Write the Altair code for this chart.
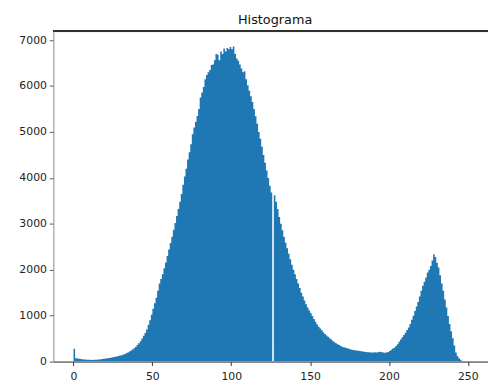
import altair as alt
import pandas as pd

counts = [
    280, 70, 65, 60, 55, 50, 48, 45, 42, 40,
    38, 36, 38, 40, 42, 45, 48, 52, 58, 62,
    68, 72, 78, 85, 90, 98, 105, 112, 120, 130,
    140, 150, 165, 180, 200, 220, 240, 262, 290, 320,
    360, 400, 445, 500, 560, 620, 700, 800, 900, 1020,
    1150, 1270, 1390, 1540, 1700, 1800, 1900, 2030, 2160, 2300,
    2440, 2580, 2720, 2870, 3020, 3170, 3320, 3480, 3650, 3850,
    4030, 4200, 4400, 4560, 4730, 4950, 5100, 5220, 5350, 5500,
    5750, 5860, 5980, 6150, 6240, 6300, 6350, 6460, 6470, 6560,
    6700, 6680, 6560, 6750, 6700, 6820, 6750, 6830, 6800, 6850,
    6800, 6860, 6700, 6600, 6550, 6470, 6380, 6300, 6320, 6150,
    6020, 5900, 5780, 5650, 5500, 5340, 5180, 5000, 4850, 4680,
    4500, 4330, 4160, 4000, 3830, 3680, 0, 3620, 3480, 3320,
    3150, 3000, 2860, 2720, 2590, 2470, 2350, 2230, 2110, 2000,
    1900, 1800, 1700, 1600, 1500, 1420, 1330, 1250, 1180, 1110,
    1050, 990, 930, 870, 810, 760, 720, 680, 640, 600,
    570, 540, 510, 480, 450, 420, 400, 380, 360, 340,
    320, 310, 300, 290, 280, 270, 260, 250, 245, 240,
    235, 230, 225, 220, 215, 210, 205, 205, 200, 200,
    200, 205, 200, 210, 215, 205, 200, 195, 200, 210,
    230, 260, 285, 300, 340, 380, 430, 480, 530, 580,
    630, 690, 740, 820, 910, 1000, 1100, 1200, 1300, 1420,
    1540, 1650, 1740, 1830, 1940, 2000, 2080, 2200, 2340, 2280,
    2150, 2050, 1880, 1700, 1540, 1350, 1180, 990, 820, 660,
    510, 350, 200, 120, 70, 40, 15, 5, 0, 0,
    0, 0, 0, 0, 0, 0,
]
bin_start = list(range(256))
x_ticks = [0, 50, 100, 150, 200, 250]
y_ticks = [0, 1000, 2000, 3000, 4000, 5000, 6000, 7000]
title_text = "Histograma"

# histogram outline: each bin's count holds from its left edge to the next
# edge; the last edge (256) closes the outline at zero
df = pd.DataFrame({"edge": bin_start + [256], "count": counts + [0]})

W, H = 441, 335
FONT = "DejaVu Sans"

bars = alt.Chart(df).mark_area(
    color="#1f77b4", interpolate="step-after", clip=True, opacity=1
).encode(
    x=alt.X(
        "edge:Q",
        scale=alt.Scale(domain=[-12.8, 262.8], nice=False, zero=False),
        axis=alt.Axis(
            values=x_ticks, title=None, grid=False, format="d",
            labelFont=FONT, labelFontSize=11, labelColor="#222",
            tickColor="#333", tickSize=4, labelPadding=5,
            domainColor="#333", domainWidth=1,
        ),
    ),
    y=alt.Y(
        "count:Q",
        scale=alt.Scale(domain=[0, 7190], nice=False),
        axis=alt.Axis(
            values=y_ticks, title=None, grid=False, format="d",
            labelFont=FONT, labelFontSize=11, labelColor="#222",
            tickColor="#555", tickSize=4, labelPadding=3,
            domainColor="#999", domainWidth=1,
        ),
    ),
)

top_border = alt.Chart(df).mark_rule(color="#333", strokeWidth=1).encode(
    x=alt.value(0), x2=alt.value(W), y=alt.value(0)
)

title = alt.Chart(pd.DataFrame({"t": [title_text]})).mark_text(
    font=FONT, fontSize=13, color="#111", baseline="middle", align="center"
).encode(
    text="t:N", x=alt.value(225), y=alt.value(-12)
)

chart = alt.layer(bars, top_border, title).properties(
    width=W, height=H,
    autosize=alt.AutoSizeParams(type="none"),
    padding={"left": 46, "top": 21, "right": 0, "bottom": 20},
).configure_view(stroke=None).configure(background="white")

chart.save("out.html", embed_options={"renderer": "svg", "actions": False})
